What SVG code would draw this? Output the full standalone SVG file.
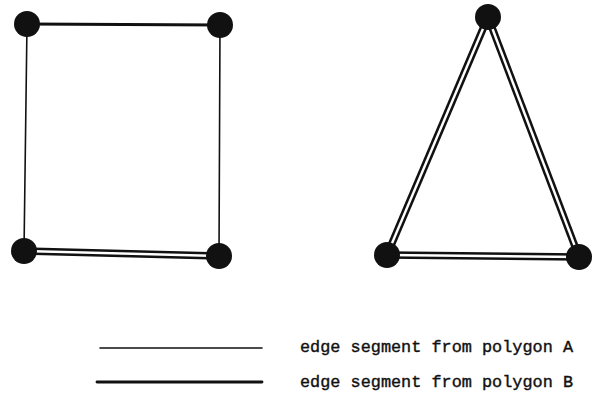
<svg xmlns="http://www.w3.org/2000/svg" width="593" height="398" viewBox="0 0 593 398">
<style>
.a{stroke:#111;stroke-width:1.6;fill:none;stroke-linecap:round}
.b{stroke:#111;stroke-width:2.8;fill:none;stroke-linecap:round}
.dbo{stroke:#111;stroke-width:7.5;fill:none}
.dbi{stroke:#fff;stroke-width:2.4;fill:none}
.v{fill:#111}
text{font-family:"Liberation Mono","DejaVu Sans Mono",monospace;font-size:17px;fill:#111;stroke:#111;stroke-width:0.4}
</style>
<g id="connectors">
<line class="a" x1="27" y1="24" x2="24" y2="251"/>
<line class="a" x1="220" y1="25" x2="219" y2="256"/>
<line class="b" x1="27" y1="24" x2="220" y2="25"/>
<g>
<line class="dbo" x1="24" y1="251" x2="219" y2="256"/>
<line class="dbi" x1="24" y1="251" x2="219" y2="256"/>
</g>
<g>
<line class="dbo" x1="488" y1="17" x2="387" y2="255"/>
<line class="dbi" x1="488" y1="17" x2="387" y2="255"/>
<line class="dbo" x1="488" y1="17" x2="579" y2="257"/>
<line class="dbi" x1="488" y1="17" x2="579" y2="257"/>
<line class="dbo" x1="387" y1="255" x2="579" y2="257"/>
<line class="dbi" x1="387" y1="255" x2="579" y2="257"/>
</g>
</g>
<g id="n1"><circle class="v" cx="27" cy="24" r="13"/></g>
<g id="n2"><circle class="v" cx="220" cy="25" r="13"/></g>
<g id="n3"><circle class="v" cx="24" cy="251" r="13"/></g>
<g id="n4"><circle class="v" cx="219" cy="256" r="13"/></g>
<g id="n5"><circle class="v" cx="488" cy="17" r="13"/></g>
<g id="n6"><circle class="v" cx="387" cy="255" r="13"/></g>
<g id="n7"><circle class="v" cx="579" cy="257" r="13"/></g>
<g id="legend">
<line class="a" x1="100" y1="348" x2="262" y2="348"/>
<line class="b" x1="97" y1="382" x2="262" y2="382"/>
<text x="300" y="352" textLength="273" lengthAdjust="spacingAndGlyphs">edge segment from polygon A</text>
<text x="300" y="387" textLength="273" lengthAdjust="spacingAndGlyphs">edge segment from polygon B</text>
</g>
</svg>
